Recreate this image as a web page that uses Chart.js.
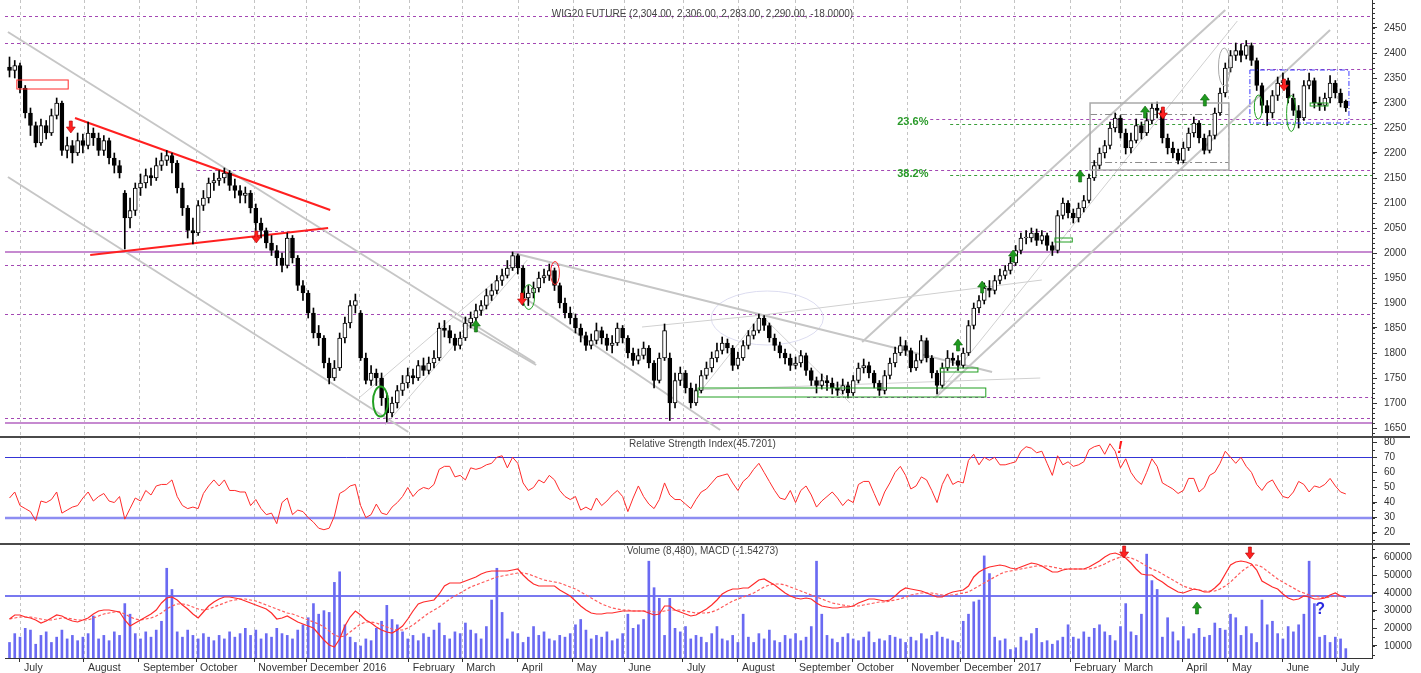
<!DOCTYPE html>
<html>
<head>
<meta charset="utf-8">
<title>WIG20 FUTURE</title>
<script src="https://cdn.jsdelivr.net/npm/chart.js@4.4.1/dist/chart.umd.min.js"></script>
<style>
  body { margin: 0; background: #fff; }
  .pane { position: absolute; left: 0; }
</style>
</head>
<body>
<canvas id="priceChart" class="pane" width="1421" height="436" style="top:0"></canvas>
<canvas id="rsiChart" class="pane" width="1421" height="107" style="top:436px"></canvas>
<canvas id="volChart" class="pane" width="1421" height="130" style="top:543px"></canvas>
<script>
Chart.defaults.font.family = "'Liberation Sans', Arial, sans-serif";
Chart.defaults.font.size = 10;
Chart.defaults.color = '#333';

// x axis: one bar = two sessions, month starts given in bar units
const monthLabels = ['July', 'August', 'September', 'October', 'November', 'December', '2016',
  'February', 'March', 'April', 'May', 'June', 'July', 'August', 'September', 'October',
  'November', 'December', '2017', 'February', 'March', 'April', 'May', 'June', 'July'];
const monthPos = [2.0, 14.2, 24.7, 35.6, 46.7, 56.6, 66.7, 76.2, 86.4, 97.0, 107.5, 117.3, 128.5,
  139.0, 149.9, 160.9, 171.3, 181.4, 191.7, 202.4, 211.9, 223.8, 232.5, 242.9, 253.3];

const priceTicks = [1650, 1700, 1750, 1800, 1850, 1900, 1950, 2000, 2050, 2100, 2150, 2200, 2250, 2300, 2350, 2400, 2450];
const rsiTicks = [20, 30, 40, 50, 60, 70, 80];
const volumeTicks = [10000, 20000, 30000, 40000, 50000, 60000];

const opens = [
  2372, 2365, 2375, 2330, 2280, 2255, 2220, 2255, 2240, 2275,
  2300, 2205, 2215, 2200, 2225, 2215, 2240, 2230, 2205, 2225,
  2190, 2175, 2120, 2070, 2085, 2130, 2140, 2155, 2150, 2175,
  2185, 2195, 2180, 2130, 2090, 2045, 2040, 2095, 2110, 2140,
  2145, 2150, 2160, 2135, 2125, 2115, 2120, 2090, 2060, 2045,
  2020, 2005, 1990, 1975, 2030, 1990, 1935, 1920, 1880, 1840,
  1830, 1780, 1750, 1770, 1830, 1860, 1895, 1880, 1790, 1745,
  1760, 1750, 1710, 1680, 1700, 1725, 1740, 1755, 1750, 1775,
  1765, 1780, 1790, 1850, 1845, 1830, 1815, 1830, 1860, 1870,
  1885, 1895, 1915, 1925, 1945, 1955, 1970, 1995, 1970, 1910,
  1920, 1930, 1950, 1955, 1965, 1935, 1900, 1880, 1870, 1850,
  1835, 1815, 1825, 1845, 1830, 1815, 1820, 1850, 1830, 1800,
  1785, 1795, 1810, 1780, 1745, 1790, 1790, 1700, 1745, 1760,
  1730, 1700, 1725, 1755, 1770, 1790, 1805, 1820, 1810, 1775,
  1790, 1815, 1835, 1845, 1870, 1855, 1830, 1815, 1800, 1790,
  1775, 1780, 1795, 1765, 1745, 1735, 1745, 1740, 1730, 1725,
  1735, 1720, 1745, 1770, 1775, 1760, 1740, 1725, 1755, 1780,
  1800, 1815, 1805, 1770, 1785, 1825, 1790, 1760, 1735, 1770,
  1790, 1785, 1775, 1800, 1855, 1890, 1905, 1930, 1925, 1945,
  1955, 1965, 1980, 2005, 2030, 2030, 2040, 2025, 2035, 2015,
  2005, 2075, 2100, 2080, 2070, 2090, 2105, 2150, 2175, 2200,
  2215, 2250, 2270, 2240, 2210, 2225, 2255, 2240, 2265, 2290,
  2285, 2230, 2210, 2200, 2185, 2210, 2240, 2260, 2230, 2205,
  2235, 2280, 2320, 2370, 2395, 2405, 2395, 2415, 2385, 2335,
  2295, 2280, 2315, 2340, 2345, 2310, 2285, 2270, 2335, 2345,
  2300, 2295, 2310, 2340, 2320, 2304
];
const highs = [
  2392, 2385, 2380, 2335, 2290, 2262, 2268, 2265, 2288, 2310,
  2304, 2232, 2225, 2240, 2238, 2262, 2250, 2240, 2235, 2230,
  2200, 2185, 2125, 2110, 2140, 2158, 2168, 2170, 2190, 2200,
  2205, 2200, 2185, 2140, 2095, 2070, 2105, 2125, 2150, 2160,
  2165, 2170, 2165, 2148, 2135, 2132, 2125, 2098, 2070, 2050,
  2035, 2015, 2000, 2040, 2035, 1995, 1945, 1925, 1890, 1855,
  1835, 1790, 1785, 1840, 1872, 1905, 1918, 1885, 1800, 1775,
  1768, 1760, 1720, 1712, 1735, 1755, 1770, 1768, 1785, 1790,
  1792, 1805, 1860, 1865, 1855, 1838, 1842, 1872, 1882, 1898,
  1905, 1928, 1938, 1955, 1968, 1985, 2002, 1998, 1975, 1935,
  1942, 1962, 1968, 1978, 1970, 1940, 1910, 1892, 1878, 1858,
  1842, 1838, 1860, 1852, 1838, 1835, 1860, 1855, 1835, 1810,
  1808, 1822, 1815, 1785, 1800, 1858, 1800, 1760, 1772, 1765,
  1740, 1738, 1765, 1782, 1802, 1820, 1832, 1828, 1815, 1802,
  1825, 1845, 1858, 1878, 1875, 1860, 1838, 1822, 1808, 1798,
  1792, 1805, 1800, 1770, 1752, 1758, 1755, 1750, 1742, 1748,
  1742, 1755, 1780, 1788, 1782, 1765, 1745, 1765, 1790, 1812,
  1832, 1825, 1810, 1798, 1835, 1830, 1795, 1765, 1780, 1805,
  1800, 1795, 1810, 1865, 1900, 1915, 1940, 1945, 1955, 1968,
  1975, 1992, 2015, 2040, 2045, 2050, 2048, 2045, 2040, 2022,
  2085, 2110, 2105, 2088, 2100, 2115, 2158, 2185, 2210, 2225,
  2262, 2280, 2275, 2248, 2240, 2268, 2262, 2280, 2300, 2302,
  2290, 2238, 2222, 2208, 2222, 2250, 2272, 2265, 2238, 2245,
  2290, 2330, 2380, 2405, 2420, 2418, 2425, 2420, 2390, 2340,
  2305, 2325, 2352, 2360, 2350, 2318, 2295, 2345, 2360, 2350,
  2312, 2320, 2355, 2345, 2328, 2306
];
const lows = [
  2352, 2350, 2320, 2270, 2235, 2212, 2215, 2228, 2235, 2268,
  2195, 2190, 2180, 2195, 2200, 2208, 2215, 2195, 2195, 2178,
  2160, 2150, 2008, 2050, 2075, 2115, 2130, 2135, 2145, 2165,
  2175, 2160, 2120, 2075, 2030, 2018, 2035, 2085, 2100, 2125,
  2135, 2140, 2125, 2110, 2100, 2100, 2080, 2045, 2030, 2010,
  1995, 1975, 1962, 1970, 1980, 1925, 1905, 1870, 1830, 1815,
  1770, 1738, 1745, 1765, 1820, 1850, 1880, 1785, 1738, 1735,
  1735, 1695, 1662, 1672, 1690, 1715, 1730, 1738, 1745, 1755,
  1758, 1770, 1785, 1832, 1820, 1805, 1808, 1825, 1850, 1862,
  1875, 1888, 1905, 1918, 1935, 1950, 1965, 1958, 1895, 1895,
  1910, 1922, 1940, 1945, 1925, 1890, 1870, 1858, 1840, 1822,
  1805, 1808, 1818, 1818, 1805, 1800, 1815, 1820, 1790, 1775,
  1778, 1788, 1770, 1730, 1740, 1785, 1665, 1690, 1735, 1720,
  1690, 1695, 1720, 1748, 1762, 1782, 1798, 1800, 1765, 1768,
  1785, 1808, 1828, 1840, 1845, 1822, 1805, 1790, 1778, 1765,
  1768, 1772, 1755, 1735, 1720, 1728, 1725, 1718, 1715, 1718,
  1710, 1715, 1740, 1760, 1750, 1730, 1715, 1718, 1748, 1772,
  1795, 1795, 1762, 1765, 1780, 1782, 1750, 1718, 1730, 1765,
  1775, 1765, 1770, 1795, 1848, 1880, 1898, 1912, 1918, 1938,
  1948, 1958, 1975, 1998, 2018, 2022, 2015, 2018, 2005, 1995,
  2000, 2068, 2070, 2060, 2062, 2082, 2100, 2145, 2168, 2190,
  2208, 2242, 2230, 2198, 2200, 2220, 2228, 2235, 2258, 2270,
  2220, 2198, 2190, 2178, 2180, 2205, 2232, 2220, 2198, 2200,
  2228, 2275, 2312, 2362, 2385, 2382, 2388, 2375, 2325, 2280,
  2255, 2270, 2305, 2330, 2300, 2275, 2250, 2265, 2328, 2290,
  2285, 2285, 2300, 2310, 2292, 2283
];
const closes = [
  2365, 2375, 2330, 2280, 2255, 2220, 2255, 2240, 2275, 2300,
  2205, 2215, 2200, 2225, 2215, 2240, 2230, 2205, 2225, 2190,
  2175, 2160, 2070, 2085, 2130, 2140, 2155, 2150, 2175, 2185,
  2195, 2180, 2130, 2090, 2045, 2040, 2095, 2110, 2140, 2145,
  2150, 2160, 2135, 2125, 2115, 2120, 2090, 2060, 2045, 2020,
  2005, 1990, 1975, 2030, 1990, 1935, 1920, 1880, 1840, 1830,
  1780, 1750, 1770, 1830, 1860, 1895, 1905, 1790, 1745, 1760,
  1750, 1710, 1680, 1700, 1725, 1740, 1755, 1750, 1775, 1765,
  1780, 1790, 1850, 1845, 1830, 1815, 1830, 1860, 1870, 1885,
  1895, 1915, 1925, 1945, 1955, 1970, 1995, 1970, 1910, 1920,
  1930, 1950, 1955, 1965, 1935, 1900, 1880, 1870, 1850, 1835,
  1815, 1825, 1845, 1830, 1815, 1820, 1850, 1830, 1800, 1785,
  1795, 1810, 1780, 1745, 1790, 1845, 1700, 1745, 1760, 1730,
  1700, 1725, 1755, 1770, 1790, 1805, 1820, 1810, 1775, 1790,
  1815, 1835, 1845, 1870, 1855, 1830, 1815, 1800, 1790, 1775,
  1780, 1795, 1765, 1745, 1735, 1745, 1740, 1730, 1725, 1735,
  1720, 1745, 1770, 1775, 1760, 1740, 1725, 1755, 1780, 1800,
  1815, 1805, 1770, 1785, 1825, 1790, 1760, 1735, 1770, 1790,
  1785, 1775, 1800, 1855, 1890, 1905, 1930, 1925, 1945, 1955,
  1965, 1980, 2005, 2030, 2030, 2040, 2025, 2035, 2015, 2005,
  2075, 2100, 2080, 2070, 2090, 2105, 2150, 2175, 2200, 2215,
  2250, 2270, 2240, 2210, 2225, 2255, 2240, 2265, 2290, 2285,
  2230, 2210, 2200, 2185, 2210, 2240, 2260, 2230, 2205, 2235,
  2280, 2320, 2370, 2395, 2405, 2395, 2415, 2385, 2335, 2295,
  2280, 2315, 2340, 2345, 2310, 2285, 2270, 2335, 2345, 2300,
  2295, 2310, 2340, 2320, 2300, 2290
];
const rsi = [
  43, 47, 38, 36, 34, 28, 41, 40, 42, 47,
  33, 35, 37, 38, 43, 47, 41, 44, 46, 41,
  40, 44, 29, 36, 43, 41, 48, 45, 51, 52,
  52, 55, 44, 38, 36, 37, 36, 46, 51, 55,
  51, 55, 48, 48, 47, 47, 38, 42, 36, 32,
  33, 26, 40, 43, 32, 35, 34, 30, 27, 23,
  22, 23, 31, 46, 48, 51, 52, 38, 30, 32,
  39, 33, 32, 37, 40, 44, 50, 44, 48, 50,
  49, 52, 62, 64, 64, 57, 58, 55, 63, 62,
  63, 65, 66, 70, 71, 63, 70, 66, 53, 48,
  50, 55, 53, 58, 55, 48, 44, 42, 44, 35,
  37, 35, 43, 38, 41, 45, 48, 44, 34, 43,
  51, 44, 39, 36, 42, 53, 45, 42, 42, 39,
  36, 42, 47, 49, 53, 57, 58, 59, 53, 48,
  54, 57, 62, 66, 60, 54, 48, 43, 42, 48,
  40, 48, 51, 45, 37, 41, 44, 47, 43, 38,
  42, 40, 52, 54, 54, 46, 38, 47, 53, 60,
  64, 58, 49, 51, 57, 55, 48, 40, 52, 59,
  52, 54, 53, 68, 72, 65, 70, 68, 70, 65,
  65, 66, 67, 74, 77, 76, 73, 74, 66, 58,
  71, 65, 67, 64, 65, 67, 75, 77, 78, 72,
  79, 74, 63, 69, 60, 55, 52, 60, 69, 64,
  53, 51, 49, 46, 48, 56, 56, 47, 50, 58,
  60, 66, 74, 70, 66, 70, 64, 60, 52, 48,
  53, 55, 49, 44, 43, 47, 54, 52, 47, 51,
  50, 52, 56, 51, 47, 45.7
];
const volume = [
  12000, 17000, 15000, 20000, 19000, 11000, 16000, 18000, 12000, 15000,
  19000, 14000, 16000, 13000, 15000, 17000, 27000, 14000, 16000, 13000,
  18000, 16000, 34000, 28000, 17000, 14000, 18000, 15000, 19000, 24000,
  54000, 42000, 18000, 15000, 19000, 16000, 14000, 17000, 15000, 13000,
  16000, 14000, 18000, 15000, 17000, 20000, 16000, 19000, 14000, 17000,
  15000, 20000, 17000, 16000, 14000, 19000, 22000, 26000, 34000, 28000,
  30000, 29000, 46000, 52000, 22000, 15000, 12000, 10000, 14000, 13000,
  20000, 24000, 33000, 25000, 22000, 18000, 14000, 16000, 13000, 17000,
  15000, 19000, 23000, 16000, 14000, 18000, 17000, 23000, 19000, 17000,
  14000, 21000, 36000, 54000, 29000, 14000, 18000, 17000, 12000, 15000,
  21000, 16000, 18000, 14000, 13000, 16000, 15000, 17000, 22000, 25000,
  19000, 14000, 16000, 15000, 18000, 13000, 14000, 17000, 28000, 20000,
  22000, 25000, 58000, 43000, 37000, 16000, 37000, 20000, 18000, 21000,
  14000, 16000, 15000, 12000, 17000, 21000, 14000, 13000, 16000, 12000,
  28000, 15000, 12000, 17000, 14000, 19000, 13000, 12000, 16000, 14000,
  17000, 13000, 15000, 21000, 58000, 28000, 16000, 14000, 12000, 15000,
  17000, 14000, 13000, 15000, 18000, 12000, 14000, 13000, 16000, 15000,
  14000, 12000, 15000, 13000, 17000, 14000, 16000, 18000, 15000, 14000,
  13000, 12000, 24000, 28000, 35000, 36000, 61000, 51000, 15000, 13000,
  14000, 8000, 9000, 15000, 13000, 17000, 20000, 12000, 13000, 11000,
  13000, 15000, 22000, 15000, 14000, 18000, 15000, 20000, 22000, 18000,
  16000, 13000, 21000, 34000, 18000, 16000, 28000, 62000, 47000, 42000,
  15000, 26000, 18000, 13000, 21000, 14000, 17000, 20000, 15000, 16000,
  23000, 20000, 19000, 28000, 26000, 16000, 21000, 17000, 12000, 36000,
  22000, 24000, 17000, 14000, 21000, 18000, 22000, 28000, 58000, 34000,
  15000, 16000, 12000, 15000, 14000, 8500
];
const macd = [
  -23, -19, -19, -21, -22, -24, -27, -25, -22, -19,
  -20, -23, -25, -26, -24, -22, -18, -15, -14, -14,
  -15, -16, -24, -30, -27, -24, -21, -18, -14, -7,
  -2, -1, -4, -9, -13, -18, -22, -16, -10, -6,
  -3, -1, -1, -2, -3, -5, -7, -9, -11, -13,
  -17, -23, -22, -20, -23, -26, -28, -30, -32, -38,
  -44, -49, -51, -43, -30, -21, -15, -19, -24, -27,
  -31, -34, -36, -37, -34, -30, -23, -15, -8, -6,
  -5, -4, 2, 10, 13, 13, 13, 15, 17, 19,
  22, 24, 25, 25, 25, 25, 26, 27, 21, 16,
  12, 10, 10, 10, 10, 6, 3, 0, -5, -10,
  -14, -17, -18, -18, -17, -17, -16, -15, -15, -15,
  -15, -15, -17, -19, -18, -10, -10, -14, -16, -18,
  -20, -19, -16, -13, -9, -4, 2, 5, 7, 7,
  8, 8, 12, 16, 17, 14, 11, 7, 3, 0,
  -2, -3, -2, -3, -7, -10, -11, -12, -12, -11,
  -11, -10, -7, -5, -3, -3, -4, -5, -4, 0,
  5, 8, 7, 6, 5, 3, 1, -1, -1, 2,
  4, 5, 6, 10, 19, 24, 27, 29, 30, 31,
  30, 28, 27, 29, 31, 33, 32, 30, 27, 24,
  24, 26, 27, 27, 27, 27, 29, 32, 35, 39,
  42, 43, 41, 38, 33, 27, 22, 21, 21, 17,
  14, 10, 7, 4, 3, 5, 7, 6, 4, 4,
  8, 13, 22, 31, 34, 35, 34, 32, 26, 15,
  12, 9, 7, 2, -2, -4, -3, 0, -1, -3,
  -3, -2, 1, 3, 0, -1.54
];
const macdSignal = [
  -23, -22, -21, -21, -21, -22, -23, -24, -24, -23,
  -22, -22, -23, -24, -24, -24, -22, -20, -18, -17,
  -16, -16, -18, -21, -23, -24, -23, -22, -20, -17,
  -13, -10, -8, -8, -9, -11, -13, -14, -13, -11,
  -9, -7, -5, -4, -3, -3, -4, -5, -7, -9,
  -11, -13, -15, -17, -18, -20, -22, -24, -26, -28,
  -31, -35, -39, -41, -40, -36, -32, -28, -26, -26,
  -27, -29, -31, -33, -34, -34, -32, -29, -25, -21,
  -17, -14, -11, -7, -3, 0, 3, 6, 9, 11,
  13, 15, 17, 19, 20, 21, 22, 23, 23, 22,
  20, 18, 16, 15, 14, 13, 11, 9, 7, 4,
  1, -2, -5, -8, -10, -12, -13, -14, -14, -15,
  -15, -15, -15, -16, -16, -15, -14, -14, -14, -15,
  -16, -17, -17, -17, -16, -14, -11, -8, -5, -3,
  -1, 1, 3, 6, 9, 11, 12, 12, 11, 9,
  7, 5, 3, 1, -1, -3, -5, -7, -8, -9,
  -10, -10, -10, -9, -8, -7, -6, -6, -5, -4,
  -3, -1, 1, 2, 3, 3, 3, 2, 1, 1,
  1, 2, 3, 4, 7, 10, 13, 16, 19, 22,
  24, 25, 26, 27, 28, 29, 30, 30, 30, 29,
  28, 27, 27, 27, 27, 27, 27, 28, 30, 32,
  35, 37, 39, 39, 38, 36, 33, 30, 27, 25,
  22, 19, 16, 13, 10, 8, 7, 6, 5, 5,
  5, 7, 10, 14, 19, 24, 28, 31, 31, 29,
  25, 21, 17, 14, 11, 8, 5, 3, 1, 0,
  -1, -2, -1, 0, 0, -1
];

const titleText = 'WIG20 FUTURE (2,304.00, 2,306.00, 2,283.00, 2,290.00, -18.0000)';
const rsiText = 'Relative Strength Index(45.7201)';
const volText = 'Volume (8,480), MACD (-1.54273)';

// drawing tools on the price pane, in bar index / price units
const levels = [ // price, first bar, kind
  [2474, -1, 'dot'], [2419, -1, 'dot'], [2367, 237.7, 'dot'], [2268, 175.7, 'dot'],
  [2166, 35.8, 'dot'], [2044, -1, 'dot'], [1976, -1, 'dot'], [1878, -1, 'dot'],
  [1712, 152.2, 'dot'], [1670, -1, 'dot'],
  [2002, -1, 'solid'], [1660, -1, 'solid'],
  [2258, 179.5, 'green'], [2156, 179.5, 'green']
];
const trendLines = [
  [-0.3, 2442, 100.3, 1780, 'thick'], [-0.3, 2152, 76.1, 1642, 'thick'],
  [96.1, 2000, 187.5, 1762, 'thick'], [98, 1912, 135.6, 1646, 'thick'],
  [84.1, 1876, 100.5, 1776, 'thick'], [162.7, 1822, 232, 2486, 'thick'],
  [176.6, 1710, 252, 2446, 'thick'],
  [176.6, 1712, 234.3, 2464, 'thin'], [71.7, 1656, 98.8, 1986, 'thin'],
  [66.9, 1712, 97.4, 1986, 'thin'], [130.4, 1726, 196.7, 1750, 'thin'],
  [120.7, 1852, 143.8, 1876, 'thin'], [143.8, 1876, 197, 1946, 'thin'],
  [131, 1712, 143.4, 1876, 'thin'], [143.4, 1876, 160.4, 1700, 'thin'],
  [206.2, 2277, 232.7, 2277, 'dashgray'], [206.2, 2181, 232.7, 2181, 'dashgray'],
  [12.5, 2270, 61.2, 2086, 'red'], [15.4, 1996, 60.8, 2050, 'red']
];
const boxes = [
  [206.2, 2300, 232.7, 2166, 'gray'], [236.7, 2366, 255.6, 2260, 'blue'],
  [1.4, 2346, 11.2, 2328, 'red'], [131.4, 1730, 186.3, 1712, 'green'],
  [177.6, 1770, 184.8, 1762, 'green'], [199.5, 2030, 202.8, 2022, 'green'],
  [248.2, 2300, 251.6, 2294, 'green']
];
const ellipses = [ // centre bar, centre price, half width (bars), half height (price)
  [70.8, 1703, 1.43, 30, 'green'], [99.1, 1912, 1.1, 25, 'green'], [104.1, 1960, 0.84, 23, 'red'],
  [238.3, 2292, 0.76, 24, 'green'], [244.6, 2279, 0.9, 36, 'green'], [231.8, 2372, 1.1, 38, 'gray']
];
const arrows = [
  [11.7, 2252, 'down'], [47.1, 2032, 'down'], [97.8, 1908, 'down'], [220.1, 2280, 'down'], [243.2, 2336, 'down'],
  [89, 1854, 'up'], [181, 1816, 'up'], [185.6, 1932, 'up'], [191.5, 1994, 'up'], [204.3, 2154, 'up'],
  [216.7, 2282, 'up'], [228.1, 2306, 'up']
];
const fibLabels = [['23.6%', 169.4, 2262], ['38.2%', 169.4, 2158]];
const rsiLevels = [70, 30];
const rsiMark = [211.9, 76];
const macdArrows = [[212.7, 44, 'down'], [236.7, 43, 'down'], [226.6, -12, 'up']];
const macdMark = [250.1, -14];

const bars = closes.map((_, i) => i);
const colors = { green: '#22a022', red: '#ff2a2a', gray: '#a9a9a9', blue: '#3c3cff' };

function xAxis(withLabels) {
  return {
    type: 'linear', min: -0.86, max: 260, offset: false,
    afterBuildTicks: s => { s.ticks = monthPos.map(v => ({ value: v })); },
    afterFit: s => { s.paddingLeft = 0; s.paddingRight = 0; s.height = withLabels ? 15 : 0; },
    grid: { offset: false, color: 'rgba(0,0,0,0)', drawTicks: withLabels, tickLength: 4, tickColor: '#333' },
    border: { display: withLabels, color: '#333' },
    ticks: {
      display: withLabels, autoSkip: false, maxRotation: 0, align: 'start', labelOffset: 4, padding: 0,
      color: '#333', font: { size: 10.5 }, callback: (v, i) => monthLabels[i]
    }
  };
}

function yAxis(min, max, tickValues) {
  return {
    position: 'right', min, max,
    afterBuildTicks: s => { s.ticks = tickValues.map(v => ({ value: v })); },
    afterFit: s => { s.width = 49; s.paddingTop = 0; s.paddingBottom = 0; },
    grid: { drawOnChartArea: false, tickLength: 5, tickColor: '#333' },
    border: { color: '#333' },
    ticks: { padding: 7, color: '#333', font: { size: 10 }, callback: v => String(v) }
  };
}

// dotted month lines through every pane
const monthGrid = {
  id: 'monthGrid',
  beforeDatasetsDraw(chart) {
    const { ctx, chartArea: a, scales: { x } } = chart;
    ctx.save();
    ctx.strokeStyle = '#c4c4c4';
    ctx.lineWidth = 1;
    ctx.setLineDash([3, 3]);
    ctx.beginPath();
    for (const v of monthPos) {
      const px = Math.round(x.getPixelForValue(v)) + 0.5;
      ctx.moveTo(px, a.top);
      ctx.lineTo(px, a.bottom);
    }
    ctx.stroke();
    ctx.restore();
  }
};

function minorTicks(scaleId, step) {
  return {
    id: 'minorTicks',
    afterDraw(chart) {
      const s = chart.scales[scaleId];
      const ctx = chart.ctx;
      ctx.save();
      ctx.strokeStyle = '#333';
      ctx.lineWidth = 1;
      ctx.beginPath();
      for (let v = Math.ceil(s.min / step) * step; v <= s.max; v += step) {
        const y = Math.round(s.getPixelForValue(v)) + 0.5;
        ctx.moveTo(s.left, y);
        ctx.lineTo(s.left + 3, y);
      }
      ctx.stroke();
      ctx.restore();
    }
  };
}

function paneText(text, y, separator) {
  return {
    id: 'paneText',
    afterDraw(chart) {
      const { ctx, chartArea: a } = chart;
      ctx.save();
      if (separator) {
        ctx.fillStyle = '#4a4a4a';
        ctx.fillRect(0, 0, chart.width - 11, 2);
      }
      ctx.fillStyle = '#444';
      ctx.font = "10px 'Liberation Sans', Arial, sans-serif";
      ctx.textAlign = 'center';
      ctx.textBaseline = 'middle';
      ctx.fillText(text, (a.left + a.right) / 2 + 14, y);
      ctx.restore();
    }
  };
}

function drawArrow(ctx, x, y, dir, color) {
  const d = dir === 'up' ? -1 : 1;
  ctx.fillStyle = color;
  ctx.strokeStyle = dir === 'up' ? '#0a600a' : '#b00000';
  ctx.lineWidth = 0.6;
  ctx.beginPath();
  ctx.moveTo(x - 1.5, y - d * 6);
  ctx.lineTo(x + 1.5, y - d * 6);
  ctx.lineTo(x + 1.5, y);
  ctx.lineTo(x + 4.5, y);
  ctx.lineTo(x, y + d * 6);
  ctx.lineTo(x - 4.5, y);
  ctx.lineTo(x - 1.5, y);
  ctx.closePath();
  ctx.fill();
  ctx.stroke();
}

function clipArea(chart) {
  const { ctx, chartArea: a } = chart;
  ctx.beginPath();
  ctx.rect(a.left, a.top, a.right - a.left, a.bottom - a.top);
  ctx.clip();
}

const priceMarks = {
  id: 'priceMarks',
  beforeDatasetsDraw(chart) {
    const { ctx, chartArea: a, scales: { x, y } } = chart;
    ctx.save();
    clipArea(chart);
    for (const [p, from, kind] of levels) {
      const py = Math.round(y.getPixelForValue(p)) + (kind === 'solid' ? 0 : 0.5);
      ctx.beginPath();
      ctx.setLineDash(kind === 'solid' ? [] : [3, 3]);
      ctx.lineWidth = kind === 'solid' ? 2 : 1;
      ctx.strokeStyle = { dot: '#a347b3', solid: '#c68ad0', green: '#3a9e3a' }[kind];
      ctx.moveTo(Math.max(a.left, x.getPixelForValue(from)), py);
      ctx.lineTo(a.right, py);
      ctx.stroke();
    }
    // faint ellipse around the summer base
    ctx.setLineDash([]);
    ctx.strokeStyle = '#dcdcf0';
    ctx.lineWidth = 1;
    ctx.beginPath();
    ctx.ellipse(x.getPixelForValue(144.6), y.getPixelForValue(1870),
      x.getPixelForValue(144.6 + 10.7) - x.getPixelForValue(144.6),
      y.getPixelForValue(1870) - y.getPixelForValue(1870 + 54), 0, 0, Math.PI * 2);
    ctx.stroke();
    for (const [x1, p1, x2, p2, kind] of trendLines) {
      ctx.beginPath();
      ctx.setLineDash(kind === 'dashgray' ? [7, 3, 2, 3] : []);
      ctx.lineWidth = kind === 'thick' || kind === 'red' ? 2 : 1;
      ctx.strokeStyle = { thick: '#c6c6c6', thin: '#d0d0d0', dashgray: '#8c8c8c', red: '#ff2020' }[kind];
      ctx.moveTo(x.getPixelForValue(x1), y.getPixelForValue(p1));
      ctx.lineTo(x.getPixelForValue(x2), y.getPixelForValue(p2));
      ctx.stroke();
    }
    ctx.restore();
  },
  afterDatasetsDraw(chart) {
    const { ctx, scales: { x, y } } = chart;
    ctx.save();
    clipArea(chart);
    for (const [x1, p1, x2, p2, kind] of boxes) {
      const l = x.getPixelForValue(x1), t = y.getPixelForValue(p1);
      ctx.setLineDash(kind === 'blue' ? [5, 2, 1, 2] : []);
      ctx.lineWidth = kind === 'gray' ? 1.5 : 1;
      ctx.strokeStyle = colors[kind];
      ctx.strokeRect(l, t, x.getPixelForValue(x2) - l, y.getPixelForValue(p2) - t);
    }
    ctx.setLineDash([]);
    for (const [cx, cp, rx, rp, kind] of ellipses) {
      const px = x.getPixelForValue(cx), py = y.getPixelForValue(cp);
      ctx.beginPath();
      ctx.lineWidth = cx < 80 ? 2 : 1;
      ctx.strokeStyle = colors[kind];
      ctx.ellipse(px, py, x.getPixelForValue(cx + rx) - px, py - y.getPixelForValue(cp + rp), 0, 0, Math.PI * 2);
      ctx.stroke();
    }
    for (const [bx, p, dir] of arrows) {
      drawArrow(ctx, x.getPixelForValue(bx), y.getPixelForValue(p), dir, dir === 'up' ? '#1f9a1f' : '#ff2020');
    }
    ctx.fillStyle = '#2a9a2a';
    ctx.font = "bold 11px 'Liberation Sans', Arial, sans-serif";
    ctx.textAlign = 'left';
    ctx.textBaseline = 'middle';
    for (const [label, bx, p] of fibLabels) {
      ctx.fillText(label, x.getPixelForValue(bx), y.getPixelForValue(p));
    }
    ctx.restore();
  }
};

const rsiMarks = {
  id: 'rsiMarks',
  beforeDatasetsDraw(chart) {
    const { ctx, chartArea: a, scales: { y } } = chart;
    ctx.save();
    rsiLevels.forEach((v, i) => {
      ctx.strokeStyle = i === 0 ? '#3434d6' : '#8d8df2';
      ctx.lineWidth = i === 0 ? 1 : 2.5;
      const py = Math.round(y.getPixelForValue(v)) + (i === 0 ? 0.5 : 0);
      ctx.beginPath();
      ctx.moveTo(a.left, py);
      ctx.lineTo(a.right, py);
      ctx.stroke();
    });
    ctx.restore();
  },
  afterDatasetsDraw(chart) {
    const { ctx, scales: { x, y } } = chart;
    ctx.save();
    ctx.fillStyle = '#ff1a1a';
    ctx.font = "italic bold 16px 'Liberation Sans', Arial, sans-serif";
    ctx.textAlign = 'center';
    ctx.textBaseline = 'middle';
    ctx.fillText('!', x.getPixelForValue(rsiMark[0]), y.getPixelForValue(rsiMark[1]));
    ctx.restore();
  }
};

const macdMarks = {
  id: 'macdMarks',
  beforeDatasetsDraw(chart) {
    const { ctx, chartArea: a, scales: { yMacd } } = chart;
    ctx.save();
    ctx.strokeStyle = '#7878f0';
    ctx.lineWidth = 2;
    const py = Math.round(yMacd.getPixelForValue(0));
    ctx.beginPath();
    ctx.moveTo(a.left, py);
    ctx.lineTo(a.right, py);
    ctx.stroke();
    ctx.restore();
  },
  afterDatasetsDraw(chart) {
    const { ctx, scales: { x, yMacd } } = chart;
    ctx.save();
    for (const [bx, v, dir] of macdArrows) {
      drawArrow(ctx, x.getPixelForValue(bx), yMacd.getPixelForValue(v), dir, dir === 'up' ? '#1f9a1f' : '#ff2020');
    }
    ctx.fillStyle = '#2a2ae0';
    ctx.font = "bold 16px 'Liberation Sans', Arial, sans-serif";
    ctx.textAlign = 'center';
    ctx.textBaseline = 'middle';
    ctx.fillText('?', x.getPixelForValue(macdMark[0]), yMacd.getPixelForValue(macdMark[1]));
    ctx.restore();
  }
};

const common = {
  responsive: false,
  animation: false,
  events: [],
  layout: { padding: { left: 5, right: 0, top: 0, bottom: 0 } },
  plugins: { legend: { display: false }, tooltip: { enabled: false } }
};

new Chart(document.getElementById('priceChart'), {
  type: 'bar',
  data: {
    datasets: [
      {
        label: 'High-Low',
        data: bars.map(i => ({ x: i, y: [lows[i], highs[i]] })),
        backgroundColor: '#000',
        barThickness: 1,
        grouped: false,
        order: 2
      },
      {
        label: 'Open-Close',
        data: bars.map(i => ({ x: i, y: [Math.min(opens[i], closes[i]), Math.max(opens[i], closes[i])] })),
        backgroundColor: bars.map(i => closes[i] >= opens[i] ? '#fff' : '#000'),
        borderColor: '#000',
        borderWidth: 1,
        borderSkipped: false,
        minBarLength: 1,
        barThickness: 4,
        grouped: false,
        order: 1
      }
    ]
  },
  options: {
    ...common,
    scales: { x: xAxis(false), y: yAxis(1634, 2506, priceTicks) }
  },
  plugins: [monthGrid, priceMarks, minorTicks('y', 10), paneText(titleText, 14, false)]
});

new Chart(document.getElementById('rsiChart'), {
  type: 'line',
  data: {
    datasets: [{
      label: 'RSI',
      data: bars.map(i => ({ x: i, y: rsi[i] })),
      borderColor: '#ff2a2a',
      borderWidth: 1,
      pointRadius: 0,
      tension: 0
    }]
  },
  options: {
    ...common,
    scales: { x: xAxis(false), y: yAxis(13.2, 84.1, rsiTicks) }
  },
  plugins: [monthGrid, rsiMarks, minorTicks('y', 5), paneText(rsiText, 8, true)]
});

new Chart(document.getElementById('volChart'), {
  type: 'bar',
  data: {
    datasets: [
      {
        type: 'line',
        label: 'MACD',
        data: bars.map(i => ({ x: i, y: macd[i] })),
        yAxisID: 'yMacd',
        borderColor: '#ff2a2a',
        borderWidth: 1.2,
        pointRadius: 0,
        order: 0
      },
      {
        type: 'line',
        label: 'Signal',
        data: bars.map(i => ({ x: i, y: macdSignal[i] })),
        yAxisID: 'yMacd',
        borderColor: '#ff5a5a',
        borderWidth: 1.2,
        borderDash: [3, 2],
        pointRadius: 0,
        order: 0
      },
      {
        label: 'Volume',
        data: bars.map(i => ({ x: i, y: volume[i] })),
        yAxisID: 'y',
        backgroundColor: '#6a6af2',
        barThickness: 2,
        grouped: false,
        order: 1
      }
    ]
  },
  options: {
    ...common,
    scales: {
      x: xAxis(true),
      y: yAxis(3200, 68300, volumeTicks),
      yMacd: { display: false, min: -62, max: 53 }
    }
  },
  plugins: [monthGrid, macdMarks, minorTicks('y', 5000), paneText(volText, 8, true)]
});
</script>
</body>
</html>
